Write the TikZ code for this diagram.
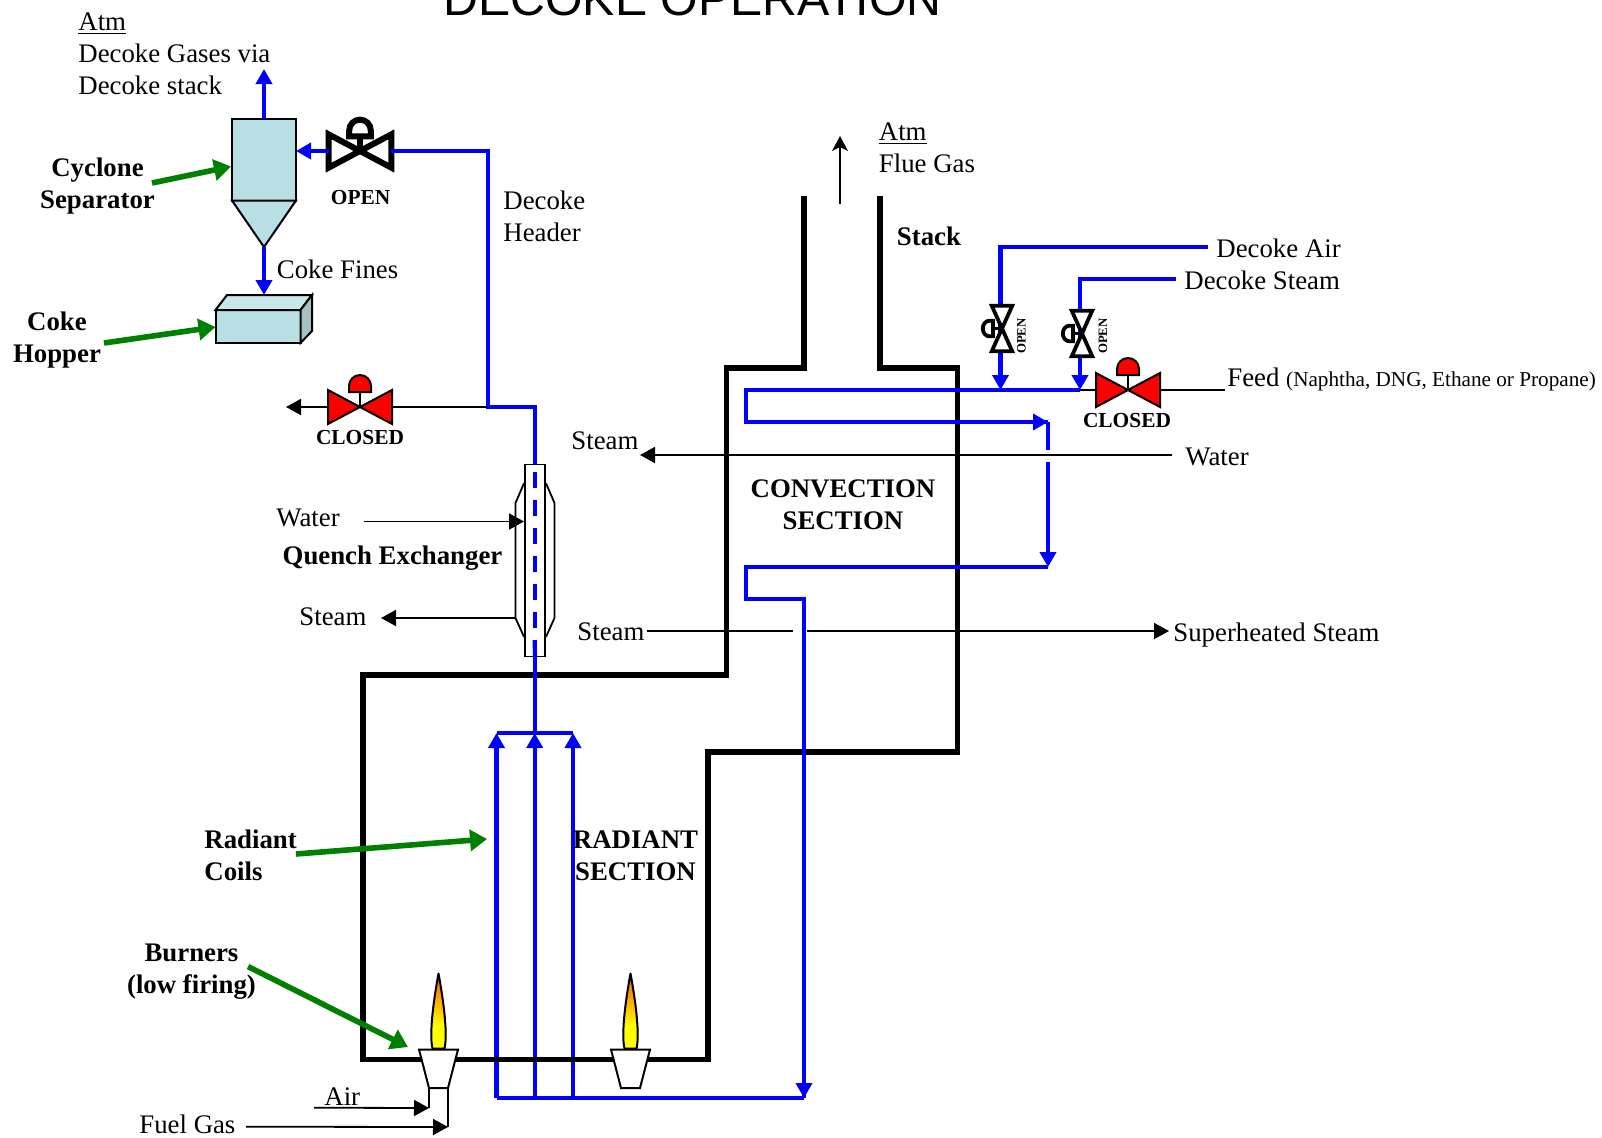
\documentclass[tikz,border=0pt]{standalone}
\usepackage{fontspec}
\setmainfont{Liberation Serif}
\newfontfamily\titlefont{Liberation Sans}
\usepackage{tikz}
\usetikzlibrary{arrows.meta,positioning,calc}
\definecolor{tankfill}{HTML}{B8DFE3}
\definecolor{pipeblue}{HTML}{0000FF}
\definecolor{calloutgreen}{HTML}{008000}
\pgfdeclareverticalshading{flameshade}{100bp}{color(0bp)=(yellow); color(40bp)=(yellow); color(62bp)=(orange!85!yellow); color(85bp)=(red!70!orange); color(100bp)=(red!70!orange)}

\begin{document}
\begin{tikzpicture}[
  x=0.5pt,y=-0.5pt,
  txt/.style={anchor=west,inner sep=0pt,align=left,font=\fontsize{13.4}{16}\selectfont},
  boldtxt/.style={inner sep=0pt,align=center,font=\fontsize{13.4}{16}\selectfont\bfseries},
  tagtxt/.style={inner sep=0pt,font=\fontsize{10.7}{12}\selectfont\bfseries},
  smalltag/.style={inner sep=0pt,rotate=90,font=\fontsize{6.4}{7}\selectfont\bfseries},
  pipe/.style={draw=pipeblue,line width=2.1pt},
  pipearr/.style={pipe,-{Triangle[length=7.5pt,width=8pt]}},
  wall/.style={line width=2.8pt,line join=miter},
  thin/.style={line width=0.9pt},
  thinarr/.style={thin,-{Triangle[length=7.5pt,width=8pt]}},
  callout/.style={draw=calloutgreen,line width=2.8pt,-{Triangle[length=8.5pt,width=10.5pt]}},
  tank/.style={draw,fill=tankfill,line width=1pt,inner sep=0pt,outer sep=0pt},
  valve/.pic={
    \coordinate (-a) at (-32,0);
    \coordinate (-b) at (32,0);
    \path[draw,fill=#1,line width=\pgfkeysvalueof{/tikz/valvewd}] (-32,-17) -- (32,17) -- (32,-17) -- (-32,17) -- cycle;
    \draw[line width=\pgfkeysvalueof{/tikz/valvewd}] (0,0) -- (0,-15);
    \path[draw,fill=#1,line width=\pgfkeysvalueof{/tikz/valvewd}] (-11,-15) -- (-11,-21) arc[start angle=180,end angle=360,radius=11] -- (11,-15) -- cycle;
  },
  valvewd/.initial=1pt,
  burner/.pic={
    \path[draw,fill=white,line width=1pt] (-19.5,0) coordinate (-tl) -- (19.5,0) -- (9.5,38.5) coordinate (-br) -- (-9.5,38.5) coordinate (-bl) -- cycle;
    \path[draw,shading=flameshade,line width=1pt,line join=round] (-6,-1) .. controls (-10,-18) and (-3,-60) .. (0,-76) .. controls (3,-60) and (10,-18) .. (6,-1) -- cycle;
  }
]
\clip (0,0) rectangle (1602,1137);

\node[inner sep=0pt,anchor=base,font=\fontsize{24.15}{26}\selectfont\titlefont] (title) at (692.5,15) {DECOKE OPERATION};

% radiant coils go under the furnace wall
\coordinate (hdrl) at (496.5,733);
\coordinate (hdrc) at (534.7,733);
\coordinate (hdrr) at (573,733);
\coordinate (botl) at (496.5,1098);
\coordinate (botc) at (534.7,1098);
\coordinate (botr) at (573,1098);
\coordinate (botx) at (804,1098);
\draw[pipearr] (botl) -- (hdrl);
\draw[pipearr] (botc) -- (hdrc);
\draw[pipearr] (botr) -- (hdrr);
\draw[pipe] (hdrl) -- (hdrr);

\coordinate (wa) at (362.7,1059.5);
\draw[wall] (804,196) -- (804,368) -- (726.5,368) -- (726.5,675) -- (362.7,675) -- (wa) -- (708,1059.5) -- (708,752) -- (957.3,752) -- (957.3,368) -- (879.7,368) -- (879.7,196);

\pic (brna) at (438.5,1049.5) {burner};
\pic (brnb) at (630.5,1049.5) {burner};
\draw[thin] (brna-bl) -- +(0,20) coordinate (airin);
\draw[thin] (brna-br) -- +(0,39) coordinate (fuelin);
\coordinate (airs) at (314,1107.7);
\coordinate (fuels) at (246,1126.7);
\draw[thinarr] (airs) -- (airin);
\draw[thinarr] (fuels) -- (fuelin);

\node[tank,minimum width=32pt,minimum height=41pt] (cyclone) at (264,159.5) {};
\coordinate (conetip) at (264,247);
\draw[tank] (cyclone.south west) -- (cyclone.south east) -- (conetip) -- cycle;
\coordinate (atmout) at (264,69);
\draw[pipearr] (cyclone.north) -- (atmout);

\node[tank,minimum width=42.5pt,minimum height=16.5pt] (hopper) at (258,326.5) {};
\coordinate (hoptopl) at (227,295);
\coordinate (hoptopr) at (312,295);
\coordinate (hopbotr) at (312,331);
\draw[tank,fill=tankfill!75!white] (hopper.north west) -- (hoptopl) -- (hoptopr) -- (hopper.north east) -- cycle;
\draw[tank,fill=tankfill!70!gray] (hopper.north east) -- (hoptopr) -- (hopbotr) -- (hopper.south east) -- cycle;
\coordinate (hopin) at (264,295);
\draw[pipearr] (conetip) -- (hopin);

\pic[valvewd=3pt,scale=.98] (vtop) at (360,151) {valve=white};
\pic (vdrain) at (360,407) {valve=red};
\coordinate (hdrtop) at (488,151);
\coordinate (hdrbot) at (488,407);
\coordinate (hdrexc) at (534.7,407);
\draw[pipearr] (vtop-a) -- (vtop-a -| cyclone.east);
\draw[pipe] (vtop-b) -- (hdrtop) -- (hdrbot) -- (hdrexc) -- (hdrc);
\coordinate (drainout) at (286,407);
\draw[thinarr] (vdrain-a) -- (drainout);
\draw[thin] (vdrain-b) -- (hdrbot);

\node[draw,thin,fill=white,inner sep=0pt,minimum width=10pt,minimum height=96pt] (tube) at (535,560.5) {};
\draw[thin] (tube.west |- 0,483) -- (515.5,503) -- (515.5,618) -- (tube.west |- 0,637);
\draw[thin] (tube.east |- 0,483) -- (554.5,503) -- (554.5,618) -- (tube.east |- 0,637);
\coordinate (tubea) at (534.7,472.3);
\coordinate (tubeb) at (534.7,640);
\draw[pipe,dash pattern=on 8pt off 6pt] (tubea) -- (tubeb);
\draw[pipe] (tubeb) -- (tube.south);
\coordinate (qwin) at (364,521.5);
\coordinate (qwtip) at (524,521.5);
\coordinate (qsa) at (515.5,618);
\coordinate (qsb) at (381,618);
\draw[thinarr] (qwin) -- (qwtip);
\draw[thinarr] (qsa) -- (qsb);

\coordinate (flueb) at (840,204);
\coordinate (fluet) at (840,136);
\draw[thin,-{Stealth[length=7.5pt,width=8pt,inset=2pt]}] (flueb) -- (fluet);

\coordinate (airs2) at (1208,247);
\coordinate (airc) at (1000.5,247);
\coordinate (airj) at (1000.5,390);
\coordinate (stms) at (1176,279);
\coordinate (stmc) at (1080,279);
\coordinate (stmj) at (1080,390);
\draw[pipearr] (airs2) -- (airc) -- (airj);
\draw[pipearr] (stms) -- (stmc) -- (stmj);
\pic[valvewd=1.9pt,rotate=90,xscale=.71,yscale=.6] (vair) at (1002,328.5) {valve=white};
\pic[valvewd=1.9pt,rotate=90,xscale=.71,yscale=.6] (vstm) at (1082,333.5) {valve=white};
\pic (vfeed) at (1128,390) {valve=red};
\coordinate (feeds) at (1225,390);
\draw[thin] (feeds) -- (vfeed-b);
\draw[thin] (vfeed-a) -- (stmj);

\coordinate (cva) at (746,390);
\coordinate (cvb) at (746,422);
\coordinate (cvc) at (1048,422);
\coordinate (cvd) at (1048,567);
\coordinate (cve) at (746,567);
\coordinate (cvf) at (746,599);
\coordinate (cvg) at (804,599);
\coordinate (cvgapa) at (1048,450);
\coordinate (cvgapb) at (1048,462);
\draw[pipe] (stmj) -- (cva) -- (cvb) -- (cvc);
\draw[pipearr] (cva |- cvc) -- (cvc);
\draw[pipe] (cvc) -- (cvgapa);
\draw[pipearr] (cvgapb) -- (cvd);
\draw[pipe] (cvd) -- (cve) -- (cvf) -- (cvg) -- (botx);
\draw[pipe] (botl) -- (botx);
\draw[pipearr] (cvg) -- (botx);

\coordinate (wtrs) at (1172,455);
\coordinate (wtre) at (640,455);
\draw[thinarr] (wtrs) -- (wtre);
\coordinate (sha) at (647,631);
\coordinate (shb) at (793,631);
\coordinate (shc) at (807,631);
\coordinate (shd) at (1169,631);
\draw[thin] (sha) -- (shb);
\draw[thinarr] (shc) -- (shd);

\node[txt] (atmtop) at (78,54) {\underline{Atm}\\Decoke Gases via\\Decoke stack};
\node[boldtxt] (sep) at (97.5,186.5) {Cyclone\\Separator};
\node[tagtxt,below=19.5pt of vtop-a,xshift=16pt] (openlbl) {OPEN};
\node[txt] (fines) at (276.5,269) {Coke Fines};
\node[boldtxt] (hop) at (57,340.5) {Coke\\Hopper};
\node[tagtxt] (closedl) at (360,438) {CLOSED};
\node[txt] (dhdr) at (503,216) {Decoke\\Header};
\node[txt] (stma) at (571,441) {Steam};
\node[txt] (wtra) at (276,518) {Water};
\node[boldtxt] (quench) at (392.5,558) {Quench Exchanger};
\node[txt] (stmb) at (299,617) {Steam};
\node[txt] (flue) at (878.5,148) {\underline{Atm}\\Flue Gas};
\node[boldtxt] (stack) at (929,236) {Stack};
\node[txt] (dair) at (1216,248) {Decoke Air};
\node[txt] (dstm) at (1184,280) {Decoke Steam};
\node[smalltag] (opa) at (1021.5,336) {OPEN};
\node[smalltag] (opb) at (1103,336) {OPEN};
\node[tagtxt] (closedr) at (1127,421) {CLOSED};
\node[txt] (feed) at (1227,379) {Feed {\fontsize{10.6}{12}\selectfont(Naphtha, DNG, Ethane or Propane)}};
\node[txt] (wtrb) at (1185,457) {Water};
\node[boldtxt] (conv) at (843,504.5) {CONVECTION\\SECTION};
\node[txt] (stmc2) at (577,632) {Steam};
\node[txt] (shs) at (1173,635) {Superheated Steam};
\node[boldtxt] (rad) at (635.5,856) {RADIANT\\SECTION};
\node[boldtxt,align=left,anchor=west] (coils) at (204,855.5) {Radiant\\Coils};
\node[boldtxt] (burn) at (191.5,971.5) {Burners\\(low firing)};
\node[txt] (air) at (324,1097) {Air};
\node[txt] (fuel) at (139,1124) {Fuel Gas};

\coordinate (sepa) at (152,183);
\coordinate (sepb) at (231,166.5);
\coordinate (hopa) at (104,343);
\coordinate (hopb) at (215.5,327);
\coordinate (coila) at (296,854);
\coordinate (coilb) at (487,839);
\coordinate (burna) at (248,966.5);
\coordinate (burnb) at (408,1047);
\draw[callout] (sepa) -- (sepb);
\draw[callout] (hopa) -- (hopb);
\draw[callout] (coila) -- (coilb);
\draw[callout] (burna) -- (burnb);
\end{tikzpicture}
\end{document}
